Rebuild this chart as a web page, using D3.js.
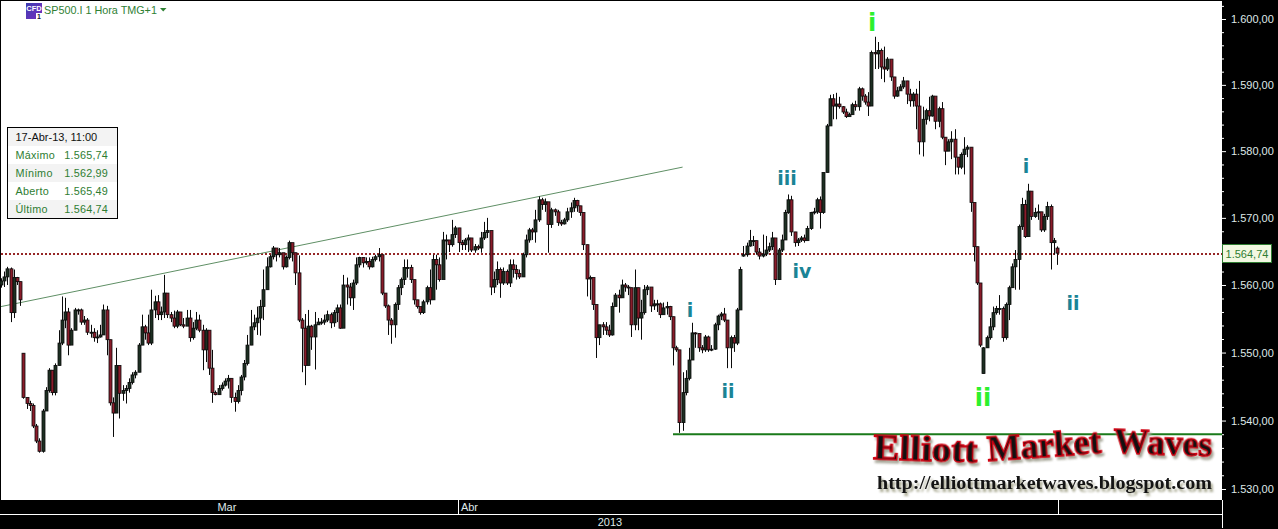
<!DOCTYPE html>
<html><head><meta charset="utf-8">
<script src="https://cdn.jsdelivr.net/npm/d3@7"></script>
<style>html,body{margin:0;padding:0;background:#000;overflow:hidden}svg{display:block}</style>
</head><body><svg id="c" width="1278" height="529"></svg>
<script>
const closes=[1560.6,1561.2,1562.4,1555.9,1561.1,1560.5,1557.8,1543.4,1542.5,1542.2,
1539.2,1537,1535.5,1541.4,1544.4,1547.4,1544.1,1548.1,1551.4,1554.8,
1556,1551.1,1553.3,1556.3,1556.3,1554.5,1554.8,1553,1553,1552.2,
1552.3,1552.6,1556.3,1551.9,1542.6,1541.1,1548.1,1544,1544.4,1544.7,
1545.6,1546.7,1547.1,1551.1,1553.8,1552.9,1551.4,1556.3,1557.5,1555.6,
1556,1558.8,1555.6,1555.1,1553.9,1556,1554.1,1553.9,1555.1,1552.2,
1553.6,1554.8,1553.3,1550.4,1553.3,1547.7,1544.1,1543.8,1544.7,1545.2,
1545.8,1546.2,1543.4,1542.8,1544.4,1546.4,1548.4,1551.1,1553.8,1554.4,
1555.1,1556.8,1559.3,1562.7,1564.2,1565.5,1564.5,1564.8,1562.7,1564.1,
1566.3,1564.8,1561.8,1554.8,1553.6,1548.1,1553.9,1552.3,1554.1,1554.5,
1554.5,1554.8,1555.6,1554.4,1555.9,1556.6,1553.6,1560,1559.7,1558.1,
1560.3,1563,1564.1,1563.3,1563.5,1562.7,1563.8,1564.2,1564.5,1558.8,
1556.9,1554.8,1554.1,1557.1,1559.6,1560.8,1562.6,1562.6,1560.8,1557.8,
1556.8,1555.9,1557.5,1559.6,1557.8,1563.8,1563,1560.8,1566.7,1566.7,
1566,1567.5,1568.5,1566.3,1566,1566.7,1567,1565.2,1565.7,1565.5,
1567,1567.8,1568.1,1559.7,1560.8,1562.3,1560.3,1562,1560.3,1563,
1562.3,1561.7,1561.2,1564.5,1566.7,1568.2,1567.9,1569.7,1572.7,1572,
1572.4,1569,1571.2,1570.9,1569.3,1569.1,1569.7,1570.9,1571.5,1572.6,
1571.8,1570.8,1566,1560.9,1561.1,1557.1,1552.2,1554.1,1553.8,1553.3,
1552.6,1556.8,1558.5,1558.1,1560,1559.7,1559.6,1554.1,1559.6,1555.1,
1555.9,1559.3,1559.7,1556.9,1557.2,1557.2,1555.6,1556.6,1556.8,1555.3,
1550.7,1550.4,1539.7,1544.1,1546.2,1548.9,1552.9,1552.8,1550.7,1550.4,
1552.3,1550.4,1550.5,1554.1,1555.4,1555.7,1554.8,1550.7,1552.2,1551.4,
1556.3,1562.3,1564.5,1565.8,1566.6,1566.6,1564.9,1564.3,1564.6,1565.2,
1565.7,1567,1560.8,1565.2,1566.7,1570.8,1572.7,1567.9,1566.3,1566.7,
1567,1566.6,1568.4,1570.8,1570.9,1572.7,1570.8,1576.8,
1583.8,1587.9,1586.8,1587.1,1586.7,1585.9,1585.2,1585.5,1587,1586.7,
1589.4,1588.3,1587.4,1586.8,1594.9,1594.7,1595.2,1592.7,1592.4,1593.9,
1591.2,1588.3,1589.1,1589.7,1590.6,1588.6,1587.6,1588.6,1586.8,1581.4,
1584.8,1586.1,1585.3,1588.3,1584.5,1586.4,1582.1,1580,1581.4,1581.8,
1579.1,1577.6,1579.5,1580.3,1580.6,
1572.3,1565.7,1560.3,1551.1,1550.7,1552.2,1553.8,1555.9,1556.5,1556.5,
1552.2,1557.1,1559.6,1562.7,1563.8,1568.7,1572,1567.2,1574,1570.2,1570.8,1570.9,1568.2,1570.2,1571.7,1566.3,1566.6,1564.74];
const highs=[1561,1562,1562.7,1562.6,1562.3,1561.2,1560.5,1549.9,1543.4,1542.9,
1542.5,1539.5,1537.4,1541.7,1544.9,1547.7,1547.4,1548.4,1553.3,1558.3,
1558.1,1556.6,1553.6,1556.6,1556.5,1556.5,1555.4,1555.1,1554.1,1553.6,
1553.3,1554.1,1557.1,1556.9,1551.9,1543.4,1550.7,1548.1,1545.2,1545.2,
1546.2,1547.1,1547.4,1551.4,1555.6,1554.1,1555.6,1559.3,1558.4,1558.5,
1556.8,1561.5,1558.8,1556,1556.2,1556.3,1556,1555.1,1556.3,1556.3,
1554.5,1556,1555.6,1554.1,1553.6,1553.3,1550.4,1544.4,1545.2,1545.6,
1546.2,1546.7,1546.2,1544.1,1545.2,1546.7,1548.9,1552.6,1556.3,1555.6,
1556.8,1557.8,1562.3,1564.1,1564.5,1565.8,1565.5,1565.5,1564.5,1564.4,
1566.6,1566.1,1564.8,1564.4,1555.1,1555.7,1556.3,1554.1,1556,1555.1,
1555.1,1555.6,1556.2,1555.9,1556.3,1557.1,1557.1,1561.5,1561.1,1560.3,
1560.8,1564.1,1564.2,1564.1,1564.1,1564.1,1564.2,1564.5,1565.5,1564.5,
1558.8,1557.1,1555.1,1557.4,1560,1561.1,1563.8,1563.8,1563,1560.8,
1557.8,1556.6,1557.8,1559.9,1562.3,1564.5,1564.5,1564.1,1567.9,1567.5,
1566.7,1569.7,1568.8,1568.5,1566.7,1567,1567.5,1567,1566.1,1566,
1567.9,1569.4,1570,1568.1,1562,1563.5,1562.6,1562.6,1562.3,1563.8,
1563.8,1563,1562.3,1564.8,1567.5,1568.5,1568.5,1571.2,1573.2,1573,
1572.9,1572.3,1571.5,1571.4,1571.2,1569.7,1570,1571.5,1572.3,1573,
1572.7,1571.8,1570.8,1566,1561.4,1561.1,1557.1,1554.1,1554.5,1554.5,
1554.1,1557.4,1558.8,1559.3,1560.8,1560.3,1560,1559.6,1562.3,1559.6,
1557.8,1560,1560,1559.3,1557.8,1557.8,1557.4,1557.4,1557.5,1556.9,
1555.3,1551,1550.4,1547.1,1547.4,1550.7,1554.4,1553,1552.8,1551.1,
1552.6,1552.5,1551.1,1554.4,1555.6,1556,1556.6,1554.8,1552.5,1552.6,
1556.6,1562.7,1565.8,1566.3,1568.2,1567.3,1566.6,1565.5,1567.5,1567.3,
1566.3,1567.9,1567,1565.5,1567.5,1571.2,1573.5,1573.3,1567.9,1567,
1567.3,1567.5,1568.8,1570.9,1571.5,1573,1573.2,1576.8,
1584.1,1588.5,1588.6,1588.8,1588.2,1586.8,1586.4,1585.8,1587.3,1587.6,
1589.7,1589.6,1588.6,1588.9,1595.2,1597.3,1596.5,1595.5,1595.8,1594.2,
1592.7,1591.2,1589.7,1590.1,1591.2,1590.6,1589.4,1588.9,1589.4,1590.6,
1586.7,1586.4,1588.2,1588.5,1587.9,1586.7,1587.4,1582.1,1581.8,1583,
1583.3,1579.1,1579.8,1582.1,1580.9,
1580.6,1572.3,1565.7,1560.3,1550.8,1552.5,1555.1,1556.8,1556.9,1558.5,
1556.8,1557.4,1559.9,1563.2,1565.2,1569,1573,1572.7,1575.1,1574,1571.5,1572,1570.9,1570.6,1572.4,1572,1567,1565.74];
const lows=[1559.6,1559.7,1560,1554.5,1555.1,1560,1556.9,1543.2,1541.7,1541.4,
1538.9,1536.7,1535.3,1535.3,1541.4,1544.1,1543.7,1543.7,1548.1,1551.1,
1553.6,1549.6,1552.6,1553.3,1555.6,1554.1,1554.1,1552.6,1552.2,1551.6,
1551.4,1552.2,1552.6,1549.6,1542.2,1537.6,1541.1,1540.3,1542.9,1542.5,
1544.1,1545.3,1546.2,1547.1,1551.1,1551.9,1551.1,1551.1,1555.1,1554.8,
1554.8,1555.1,1555.1,1554.5,1553.6,1553.6,1553.9,1553.6,1554.1,1551.6,
1551.9,1553.3,1553,1547.4,1548.6,1546.7,1542.6,1543.7,1543.8,1544.4,
1545,1544.7,1542.6,1541.3,1542.5,1543.7,1545.9,1548.1,1551.1,1553.3,
1552.6,1552.5,1554.8,1559.3,1562.6,1563.8,1563.5,1564.1,1562.3,1562.6,
1563.8,1563.5,1560,1554.5,1547.1,1545.2,1548.1,1550.4,1547.5,1554.1,
1554.1,1554.1,1554.5,1553.6,1553.8,1554.5,1553.5,1555.9,1557.1,1556.9,
1556.3,1560,1562.6,1562.6,1563,1562.3,1562.6,1563.5,1563.5,1558.5,
1556.6,1552.6,1551.3,1552.2,1556.3,1558.5,1560,1561.1,1560.3,1557.1,
1556.5,1555.6,1555.7,1557.1,1557.1,1557.8,1559.3,1560.5,1562.6,1563.8,
1564.9,1565.7,1567,1564.9,1565.2,1565.2,1564.9,1564.9,1564.8,1565.2,
1564.8,1566.7,1567,1558.5,1558.8,1560,1558.1,1560,1560,1559.7,
1561.1,1560.8,1560.9,1561.2,1564.1,1566.3,1566.7,1566.3,1569.4,1571.2,
1570.9,1564.8,1568.5,1570.3,1568.8,1568.8,1569,1569.4,1570,1570.9,
1570.9,1570.3,1565.2,1558.3,1557.8,1556.3,1549.2,1551.1,1552.6,1552.6,
1552.3,1552.5,1557.1,1555.9,1558.1,1559,1558.5,1552.3,1553.3,1553.3,
1551.9,1555.6,1558.5,1556,1556.3,1556,1555.1,1555.6,1555.6,1554.8,
1548.1,1550.1,1538.2,1538.5,1543.7,1545.9,1548.9,1550.7,1550.1,1549.9,
1550.1,1550.1,1550.2,1550.4,1553.3,1554.8,1554.5,1547.7,1547.7,1550.1,
1551.1,1557.1,1564.2,1564.2,1565.7,1565.8,1564.5,1563.8,1564.1,1564.3,
1564.9,1565.2,1560,1560.8,1564.9,1566.7,1570.6,1567.3,1565.7,1565.8,
1566.4,1566.3,1566.6,1568.2,1570.5,1570.6,1568.4,1570.6,
1576.8,1585.3,1584.8,1584.8,1586.4,1585.6,1585,1585.2,1585.5,1586.1,
1586.1,1587.6,1587,1585.3,1588.3,1592.4,1592.4,1590.9,1590.4,1592.1,
1590.6,1587.9,1588.2,1589.1,1589.4,1587.1,1586.7,1586.7,1583.3,1579.5,
1579.2,1584,1584.5,1585.2,1583.3,1583.6,1581.8,1577.9,1580,1578.8,
1576.5,1576.5,1577.3,1576.5,1579.1,
1570.9,1563.5,1560,1550.8,1546.9,1550.7,1551.9,1553.3,1555.6,1555.6,
1551.6,1551.9,1554.8,1559.6,1559.3,1559.3,1568.2,1567,1567.2,1569.7,1570,1569.7,1567.9,1567.9,1569.7,1562.3,1564.5,1562.99];
const gapBars=[0,7,232,307,330];
const gapOpens=[1560,1549.9,1564.3,1546.9,1565.49];

const axisLabels=[1600,1590,1580,1570,1560,1550,1540,1530];
const minorTicks=[1602,1598,1596,1594,1592,1588,1586,1584,1582,1578,1576,1574,1572,1568,1566,1564,1562,1558,1556,1554,1552,1548,1546,1544,1542,1538,1536,1534,1532,1528];
const lastPrice=1564.74;
const supportPrice=1538, supportStartBar=210;
const trendBars=[0,213], trendPrices=[1556.8,1577.6];
const monthLabels=["Mar","Abr"], monthBars=[70.6,142.8], monthTextBars=[70.6,146.4];
const yearLabel="2013";
const waveLabels=["i","ii","iii","iv","i","ii","i","ii"];
const waveBars=[215.3,227.2,245.6,250.3,272.2,306.9,320.3,335];
const wavePrices=[1556.3,1544.4,1575.9,1562.1,1599.4,1543.3,1577.7,1557.3];
const waveColors=["#1a8496","#1a8496","#1a8496","#1a8496","#2df02d","#2df02d","#1a8496","#1a8496"];
const infoRows=["Máximo","Mínimo","Aberto","Último"];
const infoVals=["1.565,74","1.562,99","1.565,49","1.564,74"];

const W=1278,H=529,panelX=1222,plotB=500;
const svg=d3.select("#c");
const x=d3.scaleLinear().domain([0,330]).range([1,1057]);
const y=d3.scaleLog().domain([1600,1530]).range([19,489]);
const locale=d3.formatLocale({decimal:",",thousands:".",grouping:[3],currency:["",""]});
const fmt=locale.format(",.2f");
const sans="'Liberation Sans',Arial,sans-serif";

svg.append("rect").attr("width",W).attr("height",H).attr("fill","#000");
svg.append("rect").attr("x",1).attr("y",1).attr("width",panelX-1).attr("height",plotB-1).attr("fill","#fff");

// y axis
const ax=svg.append("g").attr("transform",`translate(${panelX},0)`);
ax.call(d3.axisRight(y).tickValues(axisLabels).tickSize(4).tickPadding(5).tickFormat(fmt));
ax.select(".domain").remove();
ax.selectAll("line").attr("stroke","#fff");
ax.selectAll("text").attr("fill","#dfe8e8").attr("font-family",sans).attr("font-size",11);
const ax2=svg.append("g").attr("transform",`translate(${panelX},0)`);
ax2.call(d3.axisRight(y).tickValues(minorTicks.filter(v=>y(v)<plotB&&y(v)>1)).tickSize(2).tickFormat(""));
ax2.select(".domain").remove();
ax2.selectAll("line").attr("stroke","#fff");

// bottom band
svg.append("line").attr("x1",0).attr("x2",panelX).attr("y1",514.5).attr("y2",514.5).attr("stroke","#fff");
svg.append("line").attr("x1",panelX+.5).attr("x2",panelX+.5).attr("y1",plotB).attr("y2",528).attr("stroke","#fff");
svg.append("line").attr("x1",x(330)+1.5).attr("x2",x(330)+1.5).attr("y1",plotB).attr("y2",514).attr("stroke","#fff");
svg.append("line").attr("x1",Math.round(x(monthBars[1]))+.5).attr("x2",Math.round(x(monthBars[1]))+.5).attr("y1",plotB).attr("y2",514).attr("stroke","#fff");
svg.selectAll("text.m").data(monthLabels).join("text").attr("class","m")
 .attr("x",(d,i)=>x(monthTextBars[i])).attr("y",511).attr("text-anchor","middle")
 .attr("fill","#dfe8e8").attr("font-family",sans).attr("font-size",11).text(d=>d);
svg.append("text").attr("x",610).attr("y",526).attr("text-anchor","middle").attr("fill","#dfe8e8")
 .attr("font-family",sans).attr("font-size",11).text(yearLabel);

// last price line
svg.append("line").attr("x1",1).attr("x2",panelX).attr("y1",y(lastPrice)+1).attr("y2",y(lastPrice)+1)
 .attr("stroke","#962626").attr("stroke-width",2).attr("stroke-dasharray","2,2");

// trend line
svg.append("line").attr("x1",x(trendBars[0])).attr("x2",x(trendBars[1])).attr("y1",y(trendPrices[0])).attr("y2",y(trendPrices[1]))
 .attr("stroke","#5f8f65").attr("stroke-width",1);

// candles
const bars=closes.map((c,i)=>{
  const g=gapBars.indexOf(i);
  return {i,c,h:highs[i],l:lows[i],o:g>=0?gapOpens[g]:closes[i-1]};
});
const cg=svg.append("g");
cg.selectAll("line").data(bars).join("line")
 .attr("x1",d=>Math.round(x(d.i))+.5).attr("x2",d=>Math.round(x(d.i))+.5)
 .attr("y1",d=>y(d.h)).attr("y2",d=>y(d.l)).attr("stroke","#0a0a0a").attr("stroke-width",1);
cg.selectAll("rect").data(bars).join("rect")
 .attr("x",d=>Math.round(x(d.i))-1).attr("width",3)
 .attr("y",d=>Math.min(y(d.o),y(d.c))).attr("height",d=>Math.max(1,Math.abs(y(d.o)-y(d.c))))
 .attr("fill",d=>d.c>=d.o?"#1d2f22":"#8a1c2a").attr("stroke","#0a0a0a").attr("stroke-width",.8);

// support line
svg.append("line").attr("x1",x(supportStartBar)).attr("x2",panelX).attr("y1",y(supportPrice)).attr("y2",y(supportPrice))
 .attr("stroke","#1a7a1a").attr("stroke-width",2);

// wave labels
svg.selectAll("text.w").data(waveLabels).join("text").attr("class","w")
 .attr("x",(d,i)=>x(waveBars[i])).attr("y",(d,i)=>y(wavePrices[i])).attr("text-anchor","middle")
 .attr("dominant-baseline","central")
 .attr("font-family","'DejaVu Sans',sans-serif").attr("font-weight","bold")
 .attr("font-size",(d,i)=>waveColors[i]==="#2df02d"?24:19).attr("fill",(d,i)=>waveColors[i]).text(d=>d);

// price tag
svg.append("rect").attr("x",panelX+.5).attr("y",244.5).attr("width",49).attr("height",18).attr("fill","#f3f8e2").attr("stroke","#2f7d32");
svg.append("text").attr("x",panelX+25).attr("y",257.5).attr("text-anchor","middle").attr("fill","#2f7d32")
 .attr("font-family",sans).attr("font-size",11).text(fmt(lastPrice));

// title
const defs=svg.append("defs");
const gr=defs.append("linearGradient").attr("id","ic").attr("x1",0).attr("y1",0).attr("x2",1).attr("y2",1);
gr.append("stop").attr("offset",0).attr("stop-color","#3b3bb0");
gr.append("stop").attr("offset",1).attr("stop-color","#7a2fc0");
svg.append("rect").attr("x",26).attr("y",3).attr("width",16).attr("height",16).attr("fill","url(#ic)");
svg.append("text").attr("x",34).attr("y",11).attr("text-anchor","middle").attr("fill","#fff").attr("font-family",sans).attr("font-weight","bold").attr("font-size",7.5).text("CFD");
svg.append("rect").attr("x",36).attr("y",13).attr("width",6).attr("height",6).attr("fill","#fff");
svg.append("text").attr("x",39).attr("y",18.5).attr("text-anchor","middle").attr("fill","#113").attr("font-family",sans).attr("font-weight","bold").attr("font-size",7).text("1");
svg.append("text").attr("x",44).attr("y",14).attr("fill","#2e8033").attr("font-family",sans).attr("font-size",10.8).text("SP500.I 1 Hora TMG+1");
svg.append("path").attr("d",d3.line()([[160,8],[166.5,8],[163.2,11.5]])+"Z").attr("fill","#2e8033");

// info box
const ib=svg.append("g").attr("transform","translate(8,128)");
[0,2,4].forEach(r=>ib.append("rect").attr("y",r*18).attr("width",109).attr("height",18).attr("fill","#f3f3f3"));
ib.append("rect").attr("x",-.5).attr("y",-.5).attr("width",110).attr("height",91).attr("fill","none").attr("stroke","#000");
ib.append("text").attr("x",7.5).attr("y",13).attr("fill","#111").attr("font-family",sans).attr("font-size",11).text("17-Abr-13, 11:00");
infoRows.forEach((r,i)=>{
  ib.append("text").attr("x",7.5).attr("y",31+18*i).attr("fill","#2e7d32").attr("font-family",sans).attr("font-size",10.8).attr("letter-spacing",.3).text(r);
  ib.append("text").attr("x",100).attr("y",31+18*i).attr("text-anchor","end").attr("fill","#2e7d32").attr("font-family",sans).attr("font-size",10.8).attr("letter-spacing",.2).text(infoVals[i]);
});

// logo
const serif="'Liberation Serif','Times New Roman',serif";
const logoWords=["Elliott","Market","Waves"];
const logoX=[873,988,1113], logoY=[459,461,453], logoW=[104,114,99], logoR=[2,-4,2];
logoWords.forEach((w,i)=>{
  svg.append("text").attr("transform",`translate(${logoX[i]},${logoY[i]}) rotate(${logoR[i]})`)
    .attr("font-family",serif).attr("font-weight","bold").attr("font-size",36)
    .attr("textLength",logoW[i]).attr("lengthAdjust","spacingAndGlyphs")
    .attr("fill","#111").attr("stroke","#d00010").attr("stroke-width",1.4)
    .style("filter","drop-shadow(2px 3px 1px #a5a596)").text(w);
});
const urlText="http://elliottmarketwaves.blogspot.com";
svg.append("text").attr("x",877).attr("y",489).attr("font-family",serif).attr("font-weight","bold")
   .attr("font-size",18).attr("textLength",335).attr("lengthAdjust","spacingAndGlyphs").attr("fill","#141414")
   .style("filter","drop-shadow(2px 3px 1px #a8a890)").text(urlText);
</script></body></html>
